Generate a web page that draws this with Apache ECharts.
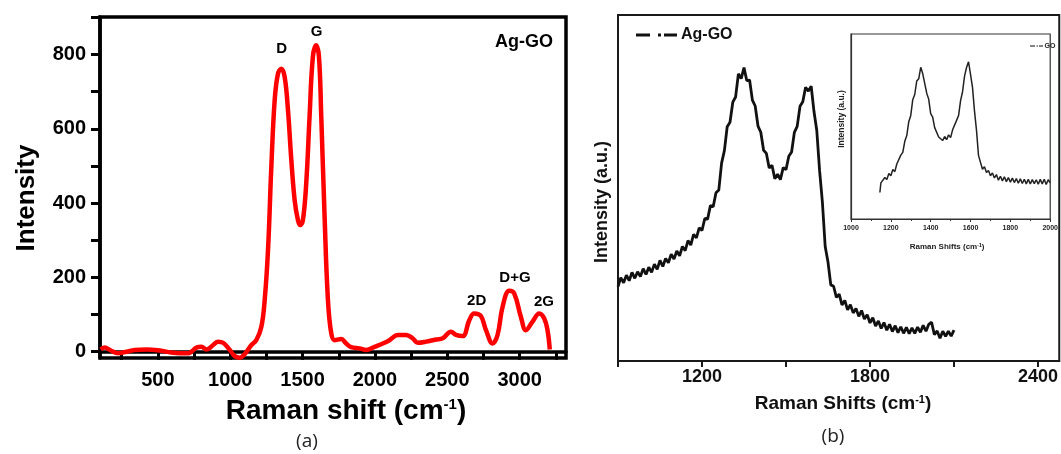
<!DOCTYPE html>
<html><head><meta charset="utf-8">
<script src="https://cdn.jsdelivr.net/npm/echarts@6/dist/echarts.min.js"></script>
<style>html,body{margin:0;padding:0;background:#fff}#c{width:1061px;height:454px}</style>
</head><body><div id="c"></div><script>
// ---- panel (a): Ag-GO Raman spectrum (red) ----
const aShift=[105,134,169,226,284,341,422,514,606,709,732,767,801,836,882,916,951,997,1031,1066,1100,1146,1180,1215,1238,1261,1284,1307,1330,1353,1376,1399,1422,1445,1468,1484,1502,1525,1548,1571,1594,1613,1629,1652,1675,1698,1721,1767,1801,1836,1893,1939,1997,2054,2100,2158,2215,2261,2296,2353,2422,2468,2525,2560,2606,2652,2686,2732,2767,2813,2847,2882,2928,2962,3008,3043,3089,3135,3169,3192,3208];
const aIntensity=[6,11,4.5,-4.5,0,4.5,6,3,-3,-4.5,0,11,13,6,18,27,24,4.5,-12,-16,-6,18,31,67,139,274,498,677,749,762,740,650,516,408,354,341,354,453,632,794,825,794,632,363,139,49,31,34,22,12,9,4.5,13,22,31,45,45,36,24,27,33,36,54,45,42,85,103,96,58,22,45,121,164,157,94,58,81,103,90,58,6];
const aXTicks=[250,500,750,1000,1250,1500,1750,2000,2250,2500,2750,3000,3250];
const aXLabels=[500,1000,1500,2000,2500,3000];
const aYTicks=[0,100,200,300,400,500,600,700,800,900];
const aYLabels=[0,200,400,600,800];
// ---- panel (b): Ag-GO (black, noisy) ----
const bShift=[900,910,920,930,940,950,960,970,980,990,1000,1010,1020,1030,1040,1050,1060,1070,1080,1090,1100,1110,1120,1130,1140,1150,1160,1170,1180,1190,1200,1210,1220,1230,1240,1250,1260,1270,1280,1290,1300,1310,1320,1330,1340,1350,1360,1370,1380,1390,1400,1410,1420,1430,1440,1450,1460,1470,1480,1490,1500,1510,1520,1530,1540,1550,1560,1570,1580,1590,1600,1610,1620,1630,1640,1650,1660,1670,1680,1690,1700,1710,1720,1730,1740,1750,1760,1770,1780,1790,1800,1810,1820,1830,1840,1850,1860,1870,1880,1890,1900,1910,1920,1930,1940,1950,1960,1970,1980,1990,2000,2010,2020,2030,2040,2050,2060,2070,2080,2090,2100];
const bIntensity=[21.5,24.1,22.6,24.8,23.2,25.6,23.9,25.8,24.4,26.7,25.0,27.1,25.6,28.0,26.5,29.1,27.3,29.6,28.4,30.9,29.5,31.8,30.4,33.1,31.9,34.8,33.5,36.6,35.6,38.5,37.7,41.2,41.0,44.9,44.6,48.6,49.4,57.2,60.8,67.7,69.0,74.8,76.3,83.0,81.6,84.8,81.0,81.2,75.4,73.7,67.9,66.1,60.9,60.0,55.8,56.6,52.7,54.0,52.4,55.9,55.3,59.2,60.4,66.1,67.8,73.6,74.9,79.1,78.0,79.4,72.1,66.6,55.0,45.9,33.1,28.6,22.0,21.6,18.4,19.3,16.2,17.5,14.8,16.3,13.9,15.2,12.9,14.6,12.1,13.4,11.0,12.5,10.1,11.6,9.4,11.1,8.9,10.6,8.5,10.2,8.2,9.9,8.0,9.7,7.9,9.6,8.0,9.8,8.3,10.3,8.6,10.6,11.2,7.6,8.7,6.6,8.6,7.1,8.6,7.2,8.9];
const bXTicks=[900,1200,1500,1800,2100,2400];
const bXLabels=[1200,1800,2400];
// ---- inset: GO ----
const insetShift=[1145,1150,1160,1170,1180,1190,1200,1210,1220,1230,1240,1250,1260,1270,1280,1290,1300,1310,1320,1330,1340,1350,1360,1370,1380,1390,1400,1410,1420,1430,1440,1450,1460,1470,1480,1490,1500,1510,1520,1530,1540,1550,1560,1570,1580,1590,1600,1610,1620,1630,1640,1650,1660,1670,1680,1690,1700,1710,1720,1730,1740,1750,1760,1770,1780,1790,1800,1810,1820,1830,1840,1850,1860,1870,1880,1890,1900,1910,1920,1930,1940,1950,1960,1970,1980,1990,2000];
const insetIntensity=[14.3,19.5,19.0,22.4,21.3,24.6,23.4,26.8,25.6,29.7,29.8,34.5,36.0,42.0,45.1,52.6,56.0,64.5,67.3,74.6,75.8,82.0,78.6,77.9,68.0,64.8,57.0,55.1,49.4,48.5,44.3,45.2,42.4,44.6,42.9,45.5,44.0,48.2,47.6,53.3,55.9,64.0,68.8,77.2,81.9,85.0,78.2,71.0,58.3,47.9,34.4,30.6,26.9,28.3,25.1,26.2,23.4,24.9,22.2,24.0,21.0,23.1,20.6,22.8,20.2,22.4,19.9,22.1,19.7,21.9,19.3,21.7,19.2,21.5,19.0,21.4,18.9,21.3,19.1,21.2,18.8,21.4,19.0,21.5,18.7,21.2,19.6];

const F="'Liberation Sans', Arial, sans-serif";
const plain=v=>String(v);
const pairs=(xs,ys)=>xs.map((x,i)=>[x,ys[i]]);
const chart=echarts.init(document.getElementById('c'),null,{renderer:'canvas'});

function txt(x,y,text,size,opts){
  opts=opts||{};
  return {type:'text',x:x,y:y,rotation:opts.rot||0,z:100,
    style:{text:text,fontFamily:opts.family||F,fontWeight:opts.weight||'bold',fontSize:size,fill:opts.color||'#000',
      align:opts.align||'center',verticalAlign:'middle',rich:opts.rich}};
}
function supRich(size){return {sup:{fontFamily:F,fontWeight:'bold',fontSize:size,fill:'#000',verticalAlign:'top'}};}
function rect(x1,x2,y,h,color){return {type:'rect',z:100,shape:{x:x1,y:y-h/2,width:x2-x1,height:h},style:{fill:color}};}

const option={
  animation:false,
  backgroundColor:'#fff',
  grid:[
    {left:100,top:17,width:466,height:341,show:true,borderColor:'#000',borderWidth:3.5,containLabel:false},
    {left:618,top:15,width:443,height:346,show:true,borderColor:'#1a1a1a',borderWidth:2,containLabel:false},
    {left:851,top:34,width:209,height:185,show:true,borderColor:'#333',borderWidth:1.2,backgroundColor:'#fff',containLabel:false}
  ],
  xAxis:[
    {gridIndex:0,type:'value',min:100,max:3320,
      axisLine:{lineStyle:{color:'#000',width:3.5}},
      axisTick:{customValues:aXTicks,length:8,lineStyle:{color:'#000',width:3}},
      axisLabel:{customValues:aXLabels,formatter:plain,fontFamily:F,fontWeight:'bold',fontSize:20,color:'#000',margin:12},
      splitLine:{show:false}},
    {gridIndex:1,type:'value',min:900,max:2476,
      axisLine:{lineStyle:{color:'#1a1a1a',width:2}},
      axisTick:{customValues:bXTicks,length:6,lineStyle:{color:'#1a1a1a',width:2}},
      axisLabel:{customValues:bXLabels,formatter:plain,fontFamily:F,fontWeight:'bold',fontSize:18,color:'#111',margin:7},
      splitLine:{show:false}},
    {gridIndex:2,type:'value',min:1000,max:2000,interval:200,
      axisLine:{lineStyle:{color:'#333',width:1.2}},
      axisTick:{length:3,lineStyle:{color:'#333',width:1}},
      minorTick:{show:true,splitNumber:2,length:2,lineStyle:{color:'#333',width:1}},
      axisLabel:{formatter:plain,fontFamily:F,fontWeight:'bold',fontSize:7,color:'#222',margin:6,showMinLabel:true,showMaxLabel:true},
      splitLine:{show:false},minorSplitLine:{show:false}}
  ],
  yAxis:[
    {gridIndex:0,type:'value',min:-17,max:901,
      axisLine:{show:true,lineStyle:{color:'#000',width:3.5}},
      axisTick:{show:true,customValues:aYTicks,length:9,lineStyle:{color:'#000',width:3}},
      axisLabel:{customValues:aYLabels,formatter:plain,fontFamily:F,fontWeight:'bold',fontSize:20,color:'#000',margin:14},
      splitLine:{show:false}},
    {gridIndex:1,type:'value',min:0,max:100,
      axisLine:{show:true,lineStyle:{color:'#1a1a1a',width:2}},
      axisTick:{show:false},axisLabel:{show:false},splitLine:{show:false}},
    {gridIndex:2,type:'value',min:0,max:100,
      axisLine:{show:true,lineStyle:{color:'#333',width:1.2}},
      axisTick:{show:false},axisLabel:{show:false},splitLine:{show:false}}
  ],
  series:[
    {type:'line',xAxisIndex:0,yAxisIndex:0,data:pairs(aShift,aIntensity),smooth:0.4,symbol:'none',
      lineStyle:{color:'#ff0000',width:4.5},z:3},
    {type:'line',xAxisIndex:1,yAxisIndex:1,data:pairs(bShift,bIntensity),smooth:false,symbol:'none',
      lineStyle:{color:'#111',width:2.8},z:3},
    {type:'line',xAxisIndex:2,yAxisIndex:2,data:pairs(insetShift,insetIntensity),smooth:false,symbol:'none',
      lineStyle:{color:'#222',width:1.5},z:4}
  ],
  graphic:[
    // panel (a) annotations
    txt(281.7,49,'D',15),
    txt(316.7,32,'G',15),
    txt(553,42,'Ag-GO',18,{align:'right'}),
    txt(476.7,301,'2D',15),
    txt(515,278,'D+G',15),
    txt(544,302,'2G',15),
    txt(346,411,'Raman shift (cm{sup|-1})',28,{rich:supRich(15)}),
    txt(27,198,'Intensity',26,{rot:Math.PI/2}),
    txt(307,442,'(a)',19,{weight:'normal',family:"'Open Sans', 'Noto Sans', sans-serif",color:'#222'}),
    // panel (b)
    rect(636,650,35,3,'#111'), rect(658,661,35,3,'#111'), rect(664,677,35,3,'#111'),
    txt(681,35,'Ag-GO',16,{align:'left',color:'#111'}),
    txt(843,404,'Raman Shifts (cm{sup|-1})',19,{rich:supRich(11),color:'#111'}),
    txt(602,202,'Intensity (a.u.)',18,{rot:Math.PI/2,color:'#111'}),
    txt(833,437,'(b)',19,{weight:'normal',family:"'Open Sans', 'Noto Sans', sans-serif",color:'#222'}),
    // inset
    rect(1030,1035,46,1.2,'#333'), rect(1036.5,1038,46,1.2,'#333'), rect(1039,1043,46,1.2,'#333'),
    txt(1044.5,46,'GO',7,{align:'left',color:'#222'}),
    txt(947,247,'Raman Shifts (cm{sup|-1})',8,{rich:supRich(5),color:'#222'}),
    txt(842,119,'Intensity (a.u.)',8.5,{rot:Math.PI/2,color:'#222'})
  ]
};
chart.setOption(option);
</script></body></html>
